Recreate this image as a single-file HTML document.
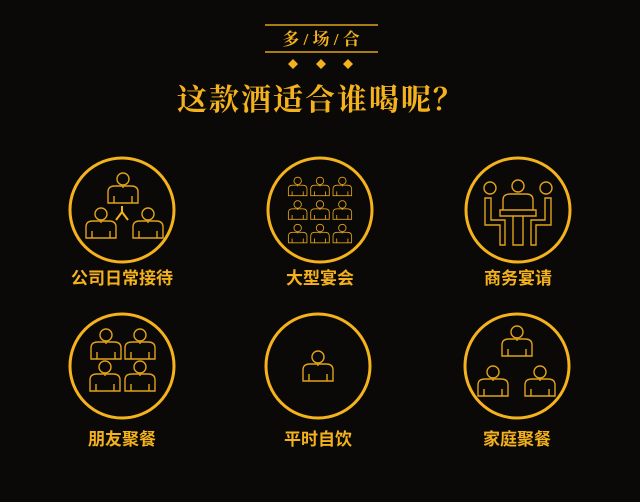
<!DOCTYPE html>
<html><head><meta charset="utf-8"><style>
html,body{margin:0;padding:0;background:#0b0808;}
svg{display:block}
text{font-family:"Liberation Sans","Noto Sans CJK SC",sans-serif;fill:#f4b21c;font-weight:bold}
.t{font-family:"Liberation Serif","Noto Serif CJK SC",serif}
</style></head><body>
<svg width="640" height="502" viewBox="0 0 640 502">
<defs>
<g id="p" fill="none" stroke="#e0a21a" stroke-width="1.4">
<circle cx="0" cy="-11" r="6"/>
<path d="M-15 13 V2 Q-15 -4 -8 -4 H8 Q15 -4 15 2 V13 Z"/>
<path d="M-9 6 V13 M9 6 V13 M0 -4 V-2"/>
</g>
</defs>
<rect width="640" height="502" fill="#0b0808"/>
<g>
<line x1="265" y1="25" x2="378" y2="25" stroke="#e0a21a" stroke-width="1.5"/>
<line x1="265" y1="52" x2="378" y2="52" stroke="#e0a21a" stroke-width="1.5"/>
<text class="t" x="321" y="45" font-size="17" text-anchor="middle">多 / 场 / 合</text>
<path d="M293 59 l5 5 l-5 5 l-5 -5Z M321 59 l5 5 l-5 5 l-5 -5Z M348 59 l5 5 l-5 5 l-5 -5Z" fill="#f4b21c"/>
</g>
<text class="t" x="321" y="110" font-size="30" text-anchor="middle" letter-spacing="2">这款酒适合谁喝呢？</text>

<g fill="none" stroke="#f4b21c" stroke-width="3">
<circle cx="122" cy="210" r="52"/>
<circle cx="320" cy="210" r="52"/>
<circle cx="518" cy="210" r="52"/>
<circle cx="122" cy="366" r="52"/>
<circle cx="318" cy="366" r="52"/>
<circle cx="517" cy="366" r="52"/>
</g>

<g>
<use href="#p" x="123" y="190"/><use href="#p" x="101" y="225"/><use href="#p" x="148" y="225"/>
<path d="M122 206 V212 L116 220 M122 212 L128 220" stroke="#f4b21c" stroke-width="2" fill="none"/>
</g>
<g transform="translate(320 210) scale(0.62)">
<use href="#p" x="-36" y="-36"/><use href="#p" x="0" y="-36"/><use href="#p" x="36" y="-36"/>
<use href="#p" x="-36" y="2"/><use href="#p" x="0" y="2"/><use href="#p" x="36" y="2"/>
<use href="#p" x="-36" y="40"/><use href="#p" x="0" y="40"/><use href="#p" x="36" y="40"/>
</g>
<g fill="none" stroke="#e0a21a" stroke-width="1.4">
<circle cx="490" cy="188" r="6"/><circle cx="546" cy="188" r="6"/><circle cx="518" cy="186" r="6"/>
<path d="M503 210 V200 Q503 194 510 194 H526 Q533 194 533 200 V210"/>
<path d="M500 210 H536 V216 H500 Z"/>
<path d="M513 216 V245 H523 V216"/>
<path d="M485 198 V225 H500 V245 H505 V220 H491 V198 Z"/>
<path d="M551 198 V225 H536 V245 H531 V220 H545 V198 Z"/>
</g>
<g>
<use href="#p" x="106" y="346"/><use href="#p" x="140" y="346"/>
<use href="#p" x="105" y="378"/><use href="#p" x="140" y="378"/>
</g>
<g><use href="#p" x="318" y="368"/></g>
<g>
<use href="#p" x="517" y="343"/><use href="#p" x="493" y="383"/><use href="#p" x="540" y="383"/>
</g>

<g font-size="17" text-anchor="middle">
<text x="122" y="284">公司日常接待</text>
<text x="320" y="284">大型宴会</text>
<text x="518" y="284">商务宴请</text>
<text x="122" y="445">朋友聚餐</text>
<text x="318" y="445">平时自饮</text>
<text x="517" y="445">家庭聚餐</text>
</g>
</svg>
</body></html>
